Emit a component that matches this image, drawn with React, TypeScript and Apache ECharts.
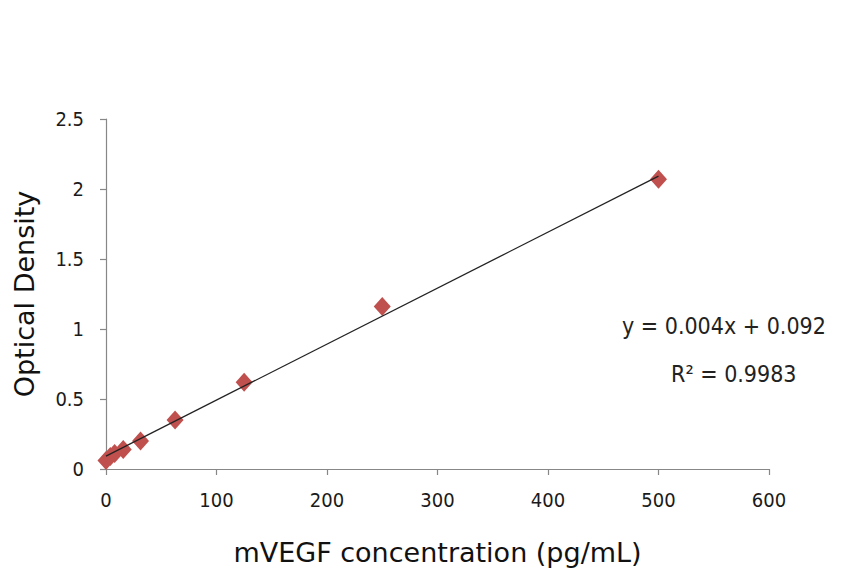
import React, { useEffect, useRef } from "react";
import * as echarts from "echarts";

const concentrations = [0, 3.9, 7.8, 15.6, 31.25, 62.5, 125, 250, 500];
const opticalDensity = [0.06, 0.09, 0.11, 0.14, 0.2, 0.35, 0.62, 1.16, 2.07];
const slope = 0.004;
const intercept = 0.092;
const trendRange = [0, 500];
const equationText = "y = 0.004x + 0.092";
const r2Text = "R² = 0.9983";
const xTitle = "mVEGF concentration (pg/mL)";
const yTitle = "Optical Density";

export default function App() {
  const ref = useRef<HTMLDivElement>(null);
  useEffect(() => {
    if (!ref.current) return;
    const chart = echarts.init(ref.current, null, { renderer: "svg" });
    const font = "DejaVu Sans";
    const condensed = "'DejaVu Sans Condensed', 'DejaVu Sans'";
    const axisLineColor = "#878787";
    chart.setOption({
      animation: false,
      backgroundColor: "#ffffff",
      grid: { left: 106, right: 77, top: 119, bottom: 99, outerBoundsMode: "none", containLabel: false },
      xAxis: {
        type: "value",
        min: 0,
        max: 600,
        interval: 100,
        splitLine: { show: false },
        axisLine: { show: true, onZero: false, lineStyle: { color: axisLineColor, width: 1.2 } },
        axisTick: { show: true, length: 6, lineStyle: { color: axisLineColor, width: 1.2 } },
        axisLabel: { color: "#1a1a1a", fontFamily: condensed, fontSize: 20, margin: 21 },
        name: xTitle,
        nameLocation: "middle",
        nameGap: 70,
        nameTextStyle: { color: "#111", fontFamily: font, fontSize: 27 },
      },
      yAxis: {
        type: "value",
        min: 0,
        max: 2.5,
        interval: 0.5,
        splitLine: { show: false },
        axisLine: { show: true, onZero: false, lineStyle: { color: axisLineColor, width: 1.2 } },
        axisTick: { show: true, length: 6, lineStyle: { color: axisLineColor, width: 1.2 } },
        axisLabel: { color: "#1a1a1a", fontFamily: condensed, fontSize: 20, margin: 22 },
        name: yTitle,
        nameLocation: "middle",
        nameGap: 68,
        nameTextStyle: { color: "#111", fontFamily: font, fontSize: 27 },
      },
      series: [
        {
          type: "line",
          data: trendRange.map((x) => [x, slope * x + intercept]),
          symbol: "none",
          lineStyle: { color: "#222", width: 1.3 },
          silent: true,
          z: 3,
        },
        {
          type: "scatter",
          data: concentrations.map((x, i) => [x, opticalDensity[i]]),
          symbol: "diamond",
          symbolSize: [17, 19],
          itemStyle: { color: "#C0504D", opacity: 1 },
          z: 2,
        },
      ],
      graphic: [
        {
          type: "text",
          left: 622,
          top: 314,
          style: { text: equationText, fontFamily: condensed, fontSize: 23, fill: "#222" },
        },
        {
          type: "text",
          left: 671,
          top: 362,
          style: { text: r2Text, fontFamily: condensed, fontSize: 23, fill: "#222" },
        },
      ],
    });
    return () => chart.dispose();
  }, []);
  return (
    <div
      ref={ref}
      style={{ position: "fixed", left: 0, top: 0, width: 846, height: 568 }}
    />
  );
}
